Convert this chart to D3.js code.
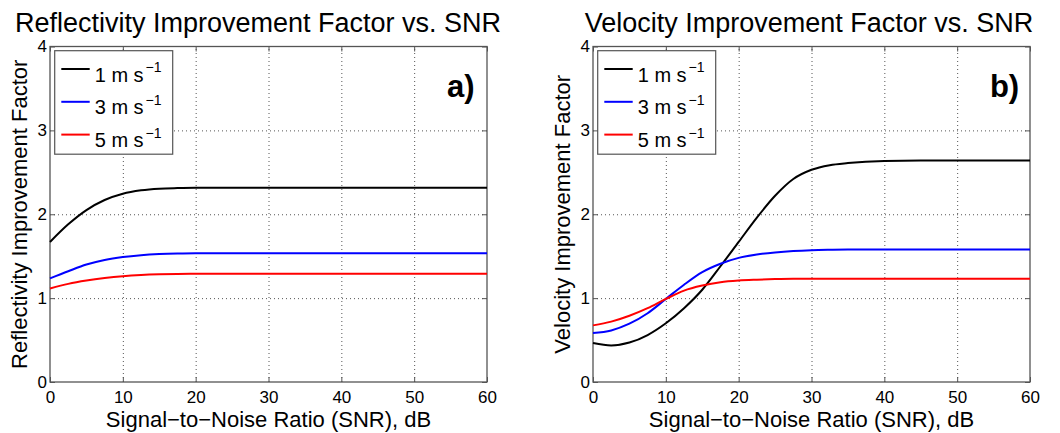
<!DOCTYPE html>
<html>
<head>
<meta charset="utf-8">
<script src="https://cdn.jsdelivr.net/npm/d3@7"></script>
<style>
	body { margin: 0; background: #fff; }
	svg { display: block; font-family: 'Liberation Sans', Arial, Helvetica, sans-serif; }
	.grid line { stroke: #c4c4c4; stroke-dasharray: 1,3; }
	.grid path { display: none; }
	.tick line { stroke: #555; }
	.frame { fill: none; stroke: #555; stroke-width: 1.3; }
</style>
</head>
<body>
<div id="root"></div>
<script>
// SNR, dB
const snr		= [0, 2.5, 5, 7.5, 10, 12.5, 15, 17.5, 20, 22.5, 25, 27.5, 30, 32.5, 35, 40, 45, 50, 55, 60];

// panel a) reflectivity improvement factor
const refl_1	= [1.67, 1.88, 2.05, 2.17, 2.245, 2.285, 2.305, 2.312, 2.315, 2.315, 2.315, 2.315, 2.315, 2.315, 2.315, 2.315, 2.315, 2.315, 2.315, 2.315];
const refl_3	= [1.235, 1.32, 1.40, 1.455, 1.49, 1.512, 1.525, 1.532, 1.535, 1.535, 1.535, 1.535, 1.535, 1.535, 1.535, 1.535, 1.535, 1.535, 1.535, 1.535];
const refl_5	= [1.115, 1.17, 1.21, 1.24, 1.262, 1.276, 1.284, 1.288, 1.29, 1.29, 1.29, 1.29, 1.29, 1.29, 1.29, 1.29, 1.29, 1.29, 1.29, 1.29];

// panel b) velocity improvement factor
const vel_1		= [0.465, 0.436, 0.47, 0.56, 0.70, 0.88, 1.10, 1.38, 1.67, 1.96, 2.22, 2.42, 2.53, 2.585, 2.61, 2.635, 2.64, 2.64, 2.64, 2.64];
const vel_3		= [0.585, 0.615, 0.695, 0.82, 0.99, 1.16, 1.31, 1.41, 1.48, 1.52, 1.545, 1.562, 1.572, 1.577, 1.58, 1.58, 1.58, 1.58, 1.58, 1.58];
const vel_5		= [0.675, 0.72, 0.79, 0.88, 0.99, 1.09, 1.15, 1.19, 1.21, 1.22, 1.227, 1.23, 1.23, 1.23, 1.23, 1.23, 1.23, 1.23, 1.23, 1.23];

const speeds	= ['1', '3', '5'];
const colors	= ['#000000', '#0000ff', '#ff0000'];
const x_ticks	= [0, 10, 20, 30, 40, 50, 60];
const y_ticks	= [0, 1, 2, 3, 4];

const panels	= [
	{ tag: 'a)', title: 'Reflectivity Improvement Factor vs. SNR', ylabel: 'Reflectivity Improvement Factor', series: [refl_1, refl_3, refl_5], left: 50, right: 487, titleX: 258 },
	{ tag: 'b)', title: 'Velocity Improvement Factor vs. SNR', ylabel: 'Velocity Improvement Factor', series: [vel_1, vel_3, vel_5], left: 593, right: 1030, titleX: 809 },
];

const top_y		= 46.5;
const bottom_y	= 382;

const svg	= d3.select('#root').append('svg')
	.attr('width', 1060)
	.attr('height', 433);

panels.forEach((p) => drawPanel(p));

function drawPanel(p) {
	let x	= d3.scaleLinear().domain([0, 60]).range([p.left, p.right]);
	let y	= d3.scaleLinear().domain([0, 4]).range([bottom_y, top_y]);
	let w	= p.right - p.left;
	let h	= bottom_y - top_y;

	let g	= svg.append('g');

	// dotted grid
	g.append('g').attr('class', 'grid')
		.attr('transform', 'translate(0,' + bottom_y + ')')
		.call(d3.axisBottom(x).tickValues(x_ticks.slice(1, -1)).tickSize(-h).tickFormat(''));
	g.append('g').attr('class', 'grid')
		.attr('transform', 'translate(' + p.left + ',0)')
		.call(d3.axisLeft(y).tickValues(y_ticks.slice(1, -1)).tickSize(-w).tickFormat(''));

	// axes, ticks inside
	let xa	= g.append('g')
		.attr('transform', 'translate(0,' + bottom_y + ')')
		.call(d3.axisBottom(x).tickValues(x_ticks).tickSize(-5).tickPadding(9).tickFormat(d3.format('d')));
	let ya	= g.append('g')
		.attr('transform', 'translate(' + p.left + ',0)')
		.call(d3.axisLeft(y).tickValues(y_ticks).tickSize(-5).tickPadding(3).tickFormat(d3.format('d')));
	g.append('g')
		.attr('transform', 'translate(0,' + top_y + ')')
		.call(d3.axisTop(x).tickValues(x_ticks).tickSize(-5).tickFormat(''));
	g.append('g')
		.attr('transform', 'translate(' + p.right + ',0)')
		.call(d3.axisRight(y).tickValues(y_ticks).tickSize(-5).tickFormat(''));

	g.selectAll('.domain').remove();
	[xa, ya].forEach((a) => a.selectAll('text')
		.attr('fill', '#000')
		.style('font-size', '17px')
		.style('font-family', "'Liberation Sans', Arial, Helvetica, sans-serif"));

	g.append('rect').attr('class', 'frame')
		.attr('x', p.left).attr('y', top_y)
		.attr('width', w).attr('height', h);

	// curves
	let line	= d3.line()
		.x((d, i) => x(snr[i]))
		.y((d) => y(d))
		.curve(d3.curveMonotoneX);

	p.series.forEach((s, i) => {
		g.append('path')
			.attr('d', line(s))
			.attr('fill', 'none')
			.attr('stroke', colors[i])
			.attr('stroke-width', 2);
	});

	// texts
	g.append('text')
		.attr('x', p.titleX).attr('y', 32)
		.attr('text-anchor', 'middle')
		.style('font-size', '27px')
		.text(p.title);

	g.append('text')
		.attr('transform', 'translate(' + (p.left - 23) + ',' + ((top_y + bottom_y) / 2) + ') rotate(-90)')
		.attr('text-anchor', 'middle')
		.style('font-size', '22px')
		.text(p.ylabel);

	g.append('text')
		.attr('x', (p.left + p.right) / 2).attr('y', 426.5)
		.attr('text-anchor', 'middle')
		.style('font-size', '22px')
		.text('Signal\u2212to\u2212Noise Ratio (SNR), dB');

	g.append('text')
		.attr('x', x(54.5)).attr('y', y(3.4))
		.style('font-size', '31px')
		.style('font-weight', 'bold')
		.text(p.tag);

	// legend
	let lx	= p.left + 4.7;
	let ly	= top_y + 4.2;
	let lg	= g.append('g').attr('transform', 'translate(' + lx + ',' + ly + ')');

	lg.append('rect')
		.attr('width', 118).attr('height', 103.5)
		.attr('fill', '#fff').attr('stroke', '#555').attr('stroke-width', 1.2);

	let rows	= lg.selectAll('.legend').data(speeds).enter().append('g')
		.attr('class', 'legend')
		.attr('transform', (o, i) => 'translate(0,' + (18.3 + i * 32.8) + ')');

	rows.append('line')
		.attr('x1', 6.6).attr('x2', 35)
		.attr('stroke', (o, i) => colors[i])
		.attr('stroke-width', 2);

	let txt	= rows.append('text')
		.attr('x', 40).attr('y', 12.5)
		.style('font-size', '20px');
	txt.append('tspan').text((o) => o + ' m s');
	txt.append('tspan')
		.attr('dx', 2).attr('dy', -9.5)
		.style('font-size', '14px')
		.text('\u22121');
}
</script>
</body>
</html>
